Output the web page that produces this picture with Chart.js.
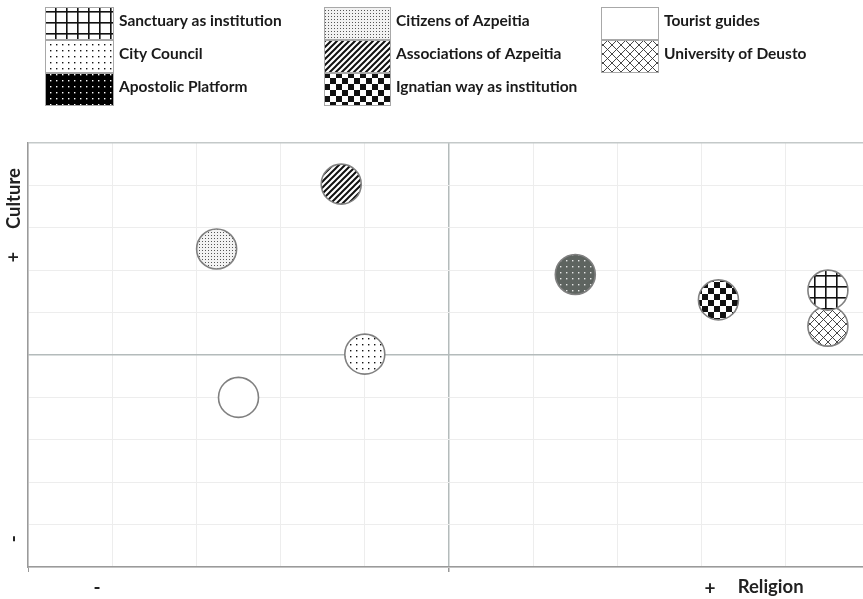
<!DOCTYPE html>
<html><head><meta charset="utf-8">
<script src="https://cdn.jsdelivr.net/npm/chart.js@4.4.1/dist/chart.umd.min.js"></script>
<style>html,body{margin:0;padding:0;overflow:hidden;background:#fff}#c{display:block}</style>
</head><body>
<canvas id="c" width="870" height="599"></canvas>
<script>
// ---- data ----
const seriesLabels = ['Sanctuary as institution','City Council','Apostolic Platform','Citizens of Azpeitia','Associations of Azpeitia','Ignatian way as institution','Tourist guides','University of Deusto'];
const religionValues = [4.5, -1.0, 1.5, -2.76, -1.28, 3.2, -2.5, 4.5];
const cultureValues  = [1.53, 0.02, 1.9, 2.5, 4.03, 1.3, -1.0, 0.68];
const axisRange = [-5, 5];
const xAxisTexts = ['-', '+', 'Religion'];
const yAxisTexts = ['-', '+', 'Culture'];

// ---- patterns ----
const canvas = document.getElementById('c');
const ctx = canvas.getContext('2d');
function pat(w, h, draw) {
  const c = document.createElement('canvas'); c.width = w; c.height = h;
  const g = c.getContext('2d'); draw(g, w, h);
  return ctx.createPattern(c, 'repeat');
}
function gridPat(g){ g.fillStyle='#fff'; g.fillRect(0,0,11,11); g.fillStyle='#111'; g.fillRect(0,0,11,1.6); g.fillRect(0,0,1.6,11); }
function dotPat(bg, fg, s, d){ return (g)=>{ g.fillStyle=bg; g.fillRect(0,0,s,s); g.fillStyle=fg; g.fillRect(2,2,d,d); }; }
function finePat(g){ g.fillStyle='#f2f2f2'; g.fillRect(0,0,3,3); g.fillStyle='#555'; g.fillRect(1,1,1,1); }
function diagPat(g){ g.fillStyle='#fff'; g.fillRect(0,0,6,6); g.strokeStyle='#111'; g.lineWidth=2;
  g.beginPath(); g.moveTo(-1,7); g.lineTo(7,-1); g.moveTo(-4,4); g.lineTo(4,-4); g.moveTo(2,10); g.lineTo(10,2); g.stroke(); }
function checkPat(g){ g.fillStyle='#fff'; g.fillRect(0,0,12,12); g.fillStyle='#111'; g.fillRect(0,0,6,6); g.fillRect(6,6,6,6); }
function whitePat(g){ g.fillStyle='#fff'; g.fillRect(0,0,4,4); }
function crossPat(g){ g.fillStyle='#fff'; g.fillRect(0,0,9,9); g.strokeStyle='#333'; g.lineWidth=0.9;
  g.beginPath(); g.moveTo(0,0); g.lineTo(9,9); g.moveTo(9,0); g.lineTo(0,9); g.stroke(); }

const fills = [
  pat(11,11,gridPat),
  pat(6,6,dotPat('#fff','#111',6,1.4)),
  pat(6,6,dotPat('#5e6460','#e6e6e6',6,1.4)),
  pat(3,3,finePat),
  pat(6,6,diagPat),
  pat(12,12,checkPat),
  pat(4,4,whitePat),
  pat(9,9,crossPat)
];
const legendFills = fills.slice();
legendFills[2] = pat(6,6,dotPat('#000','#fff',6,1.4));

// ---- custom legend & axis texts ----
const legendCols = [ {x:45, w:69, items:[0,1,2]}, {x:324, w:67, items:[3,4,5]}, {x:601, w:58, items:[6,7]} ];
const legendPlugin = {
  id:'customText',
  afterDraw(chart){
    const c = chart.ctx;
    c.save();
    const top = 7, rh = 33;
    legendCols.forEach(col=>{
      col.items.forEach((di,r)=>{
        const y = top + r*rh;
        c.fillStyle = legendFills[di];
        c.fillRect(col.x, y, col.w, rh);
        c.strokeStyle = '#a8a8a8'; c.lineWidth = 1;
        c.strokeRect(col.x+0.5, y+0.5, col.w-1, rh-1);
        c.fillStyle = '#1a1a1a';
        c.font = 'bold 15.5px Lato';
        c.textBaseline = 'middle'; c.textAlign = 'left';
        c.fillText(seriesLabels[di], col.x + col.w + 5, y + 14);
      });
    });
    // axis texts
    const xs = chart.scales.x, ys = chart.scales.y;
    c.fillStyle = '#222';
    c.textAlign = 'center'; c.textBaseline = 'middle';
    c.font = 'bold 19px Lato';
    c.fillText(xAxisTexts[0], xs.getPixelForValue(-4.18), 588);
    c.fillText(xAxisTexts[1], xs.getPixelForValue(3.1), 589);
    c.font = 'bold 18.5px Lato';
    c.fillText(xAxisTexts[2], xs.getPixelForValue(3.82), 587);
    const yl = [[yAxisTexts[0], -4.33, 'bold 19px Lato'], [yAxisTexts[1], 2.31, 'bold 18px Lato'], [yAxisTexts[2], 3.69, 'bold 18.5px Lato']];
    yl.forEach(([t,v,f])=>{
      c.save(); c.translate(14, ys.getPixelForValue(v)); c.rotate(-Math.PI/2);
      c.font = f; c.fillText(t, 0, 0); c.restore();
    });
    c.restore();
  }
};

function gridColor(ctx2){
  const v = ctx2.tick ? ctx2.tick.value : null;
  if (v === 0) return '#b4bbbb';
  if (v === 5) return '#c4c9c9';
  return '#ededed';
}
function gridWidth(ctx2){ const v = ctx2.tick ? ctx2.tick.value : null; return (v===0||v===5)?1.5:1; }

new Chart(ctx, {
  type:'scatter',
  data:{ datasets: seriesLabels.map((l,i)=>({
    label:l, data:[{x:religionValues[i], y:cultureValues[i]}],
    backgroundColor: fills[i], borderColor: '#808080', borderWidth: 1.6,
    pointRadius: 20, pointHoverRadius: 20
  })) },
  options:{
    responsive:false, animation:false, events:[],
    layout:{ autoPadding:false, padding:{ left:28, top:143, right:0, bottom:27 } },
    plugins:{ legend:{display:false}, tooltip:{enabled:false} },
    scales:{
      x:{ type:'linear', min:axisRange[0], max:axisRange[1],
          ticks:{display:false, stepSize:1},
          grid:{ color:gridColor, lineWidth:gridWidth, drawTicks:true, tickLength:5,
                 tickColor:(c2)=> (c2.tick && (c2.tick.value===0||c2.tick.value===-5)) ? '#999' : 'rgba(0,0,0,0)' },
          border:{ color:'#9a9a9a', width:1.5 } },
      y:{ type:'linear', min:axisRange[0], max:axisRange[1],
          ticks:{display:false, stepSize:1},
          grid:{ color:gridColor, lineWidth:gridWidth, drawTicks:false },
          border:{ color:'#9a9a9a', width:1.5 } }
    }
  },
  plugins:[legendPlugin]
});
</script>
</body></html>
